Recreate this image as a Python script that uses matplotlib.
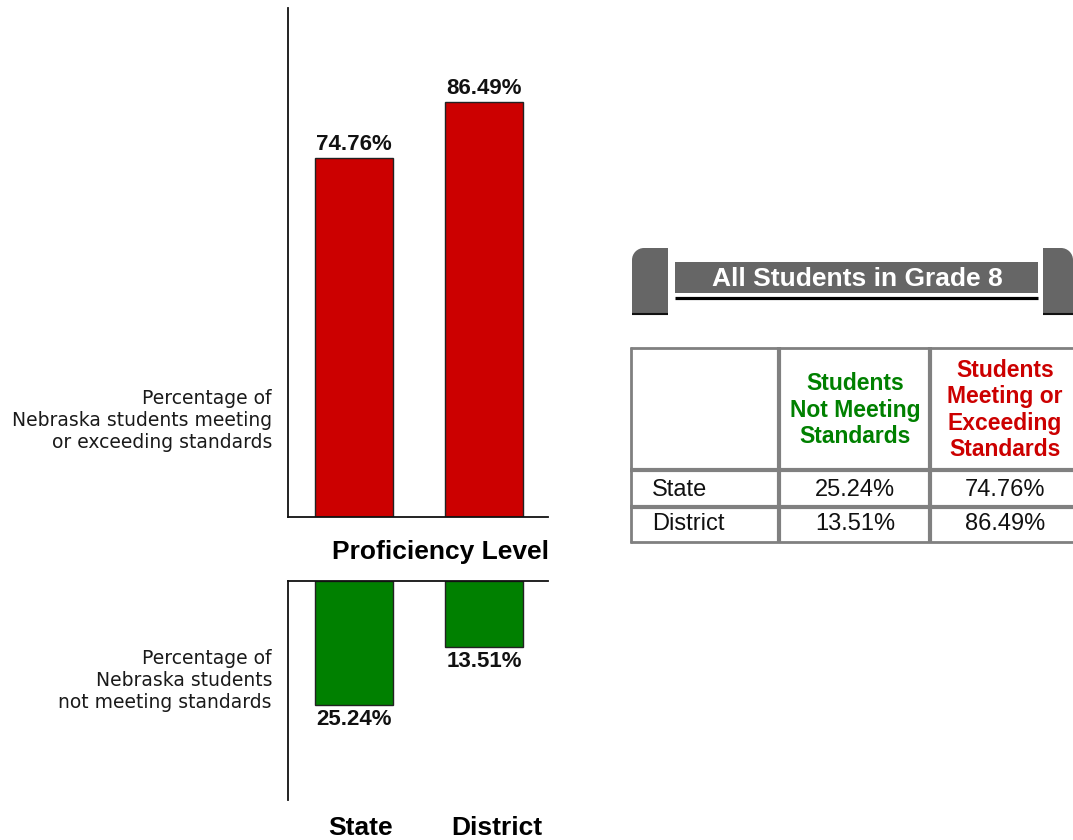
import matplotlib
matplotlib.use("Agg")
import matplotlib.pyplot as plt
from matplotlib.patches import Rectangle, Wedge

# data
groups = ["State", "District"]
meeting = [74.76, 86.49]
not_meeting = [25.24, 13.51]
table_title = "All Students in Grade 8"
col_headers = ["Students\nNot Meeting\nStandards", "Students\nMeeting or\nExceeding\nStandards"]
top_label = "Percentage of\nNebraska students meeting\nor exceeding standards"
bottom_label = "Percentage of\nNebraska students\nnot meeting standards"

RED = "#cc0000"
GREEN = "#008000"
GRAY = "#666666"
LINE = "#808080"

plt.rcParams["font.family"] = ["Liberation Sans", "DejaVu Sans"]

W, H = 1073, 840
fig = plt.figure(figsize=(W / 100, H / 100), dpi=100)


def box(x0, y0, x1, y1):
    # pixel box (top-left origin) -> figure fraction rect
    return [x0 / W, 1 - y1 / H, (x1 - x0) / W, (y1 - y0) / H]


x = list(range(len(groups)))

# upper chart: meeting or exceeding
ax_top = fig.add_axes(box(288, 8, 548, 517))
ax_top.bar(x, meeting, width=0.6, color=RED, edgecolor="#222222", linewidth=1)
ax_top.set_xlim(-0.508, 1.492)
ax_top.set_ylim(0, 106)
for xi, v in zip(x, meeting):
    ax_top.annotate(f"{v:.2f}%", (xi, v), xytext=(0, 2), textcoords="offset points",
                    ha="center", va="bottom", fontsize=16, fontweight="bold", color="#111111")

# lower chart: not meeting
ax_bot = fig.add_axes(box(288, 581, 548, 800))
ax_bot.bar(x, not_meeting, width=0.6, color=GREEN, edgecolor="#222222", linewidth=1)
ax_bot.set_xlim(-0.508, 1.492)
ax_bot.set_ylim(44.7, 0)
for xi, v in zip(x, not_meeting):
    ax_bot.annotate(f"{v:.2f}%", (xi, v), xytext=(0, -3), textcoords="offset points",
                    ha="center", va="top", fontsize=16, fontweight="bold", color="#111111")

for ax, shown in [(ax_top, ("left", "bottom")), (ax_bot, ("left", "top"))]:
    for name, sp in ax.spines.items():
        sp.set_visible(name in shown)
        sp.set_linewidth(1.3)
        sp.set_color("#111111")
    ax.set_xticks([])
    ax.set_yticks([])

fig.text(440 / W, 1 - 552 / H, "Proficiency Level", ha="center", va="center",
         fontsize=19, fontweight="bold")
for name, px in zip(groups, [361, 497]):
    fig.text(px / W, 1 - 828 / H, name, ha="center", va="center", fontsize=19, fontweight="bold")

fig.text(272 / W, 1 - 420 / H, top_label, ha="right", va="center", fontsize=13.5,
         family="DejaVu Sans", linespacing=1.2, color="#1a1a1a")
fig.text(272 / W, 1 - 680 / H, bottom_label, ha="right", va="center", fontsize=13.5,
         family="DejaVu Sans", linespacing=1.2, color="#1a1a1a")

# overlay in pixel coordinates for banner and table
ov = fig.add_axes([0, 0, 1, 1])
ov.set_xlim(0, W)
ov.set_ylim(H, 0)
ov.axis("off")

# banner tabs
ov.add_patch(Rectangle((632, 260), 36, 54, color=GRAY, lw=0))
ov.add_patch(Rectangle((644, 248), 24, 13, color=GRAY, lw=0))
ov.add_patch(Wedge((644, 260), 12, 180, 270, color=GRAY, lw=0))
ov.add_patch(Rectangle((1043, 260), 30, 54, color=GRAY, lw=0))
ov.add_patch(Rectangle((1043, 248), 18, 13, color=GRAY, lw=0))
ov.add_patch(Wedge((1061, 260), 12, 270, 360, color=GRAY, lw=0))
ov.hlines(314, 632, 668, color="#111111", lw=1.5)
ov.hlines(314, 1043, 1073, color="#111111", lw=1.5)
ov.add_patch(Rectangle((675, 262), 363, 31, color=GRAY, lw=0))
ov.hlines(298, 675, 1038, color="#000000", lw=2.3)
ov.text(857, 279, table_title, ha="center", va="center", color="white",
        fontsize=19, fontweight="bold")

# table grid
ov.vlines([631], 347, 543, color=LINE, lw=2)
ov.vlines([779, 930], 347, 543, color=LINE, lw=3)
ov.hlines([348, 542], 630, 1073, color=LINE, lw=2)
ov.hlines([470, 507], 630, 1073, color=LINE, lw=3)

ov.text(855, 410, col_headers[0], ha="center", va="center", color=GREEN,
        fontsize=16.5, fontweight="bold", linespacing=1.2)
ov.text(1005, 410, col_headers[1], ha="center", va="center", color=RED,
        fontsize=16.5, fontweight="bold", linespacing=1.2)

for yy, name, nm, m in zip([490, 524], groups, not_meeting, meeting):
    ov.text(652, yy, name, ha="left", va="center", fontsize=17, color="#111111")
    ov.text(855, yy, f"{nm:.2f}%", ha="center", va="center", fontsize=17, color="#111111")
    ov.text(1005, yy, f"{m:.2f}%", ha="center", va="center", fontsize=17, color="#111111")

fig.savefig("out.png", dpi=100)
